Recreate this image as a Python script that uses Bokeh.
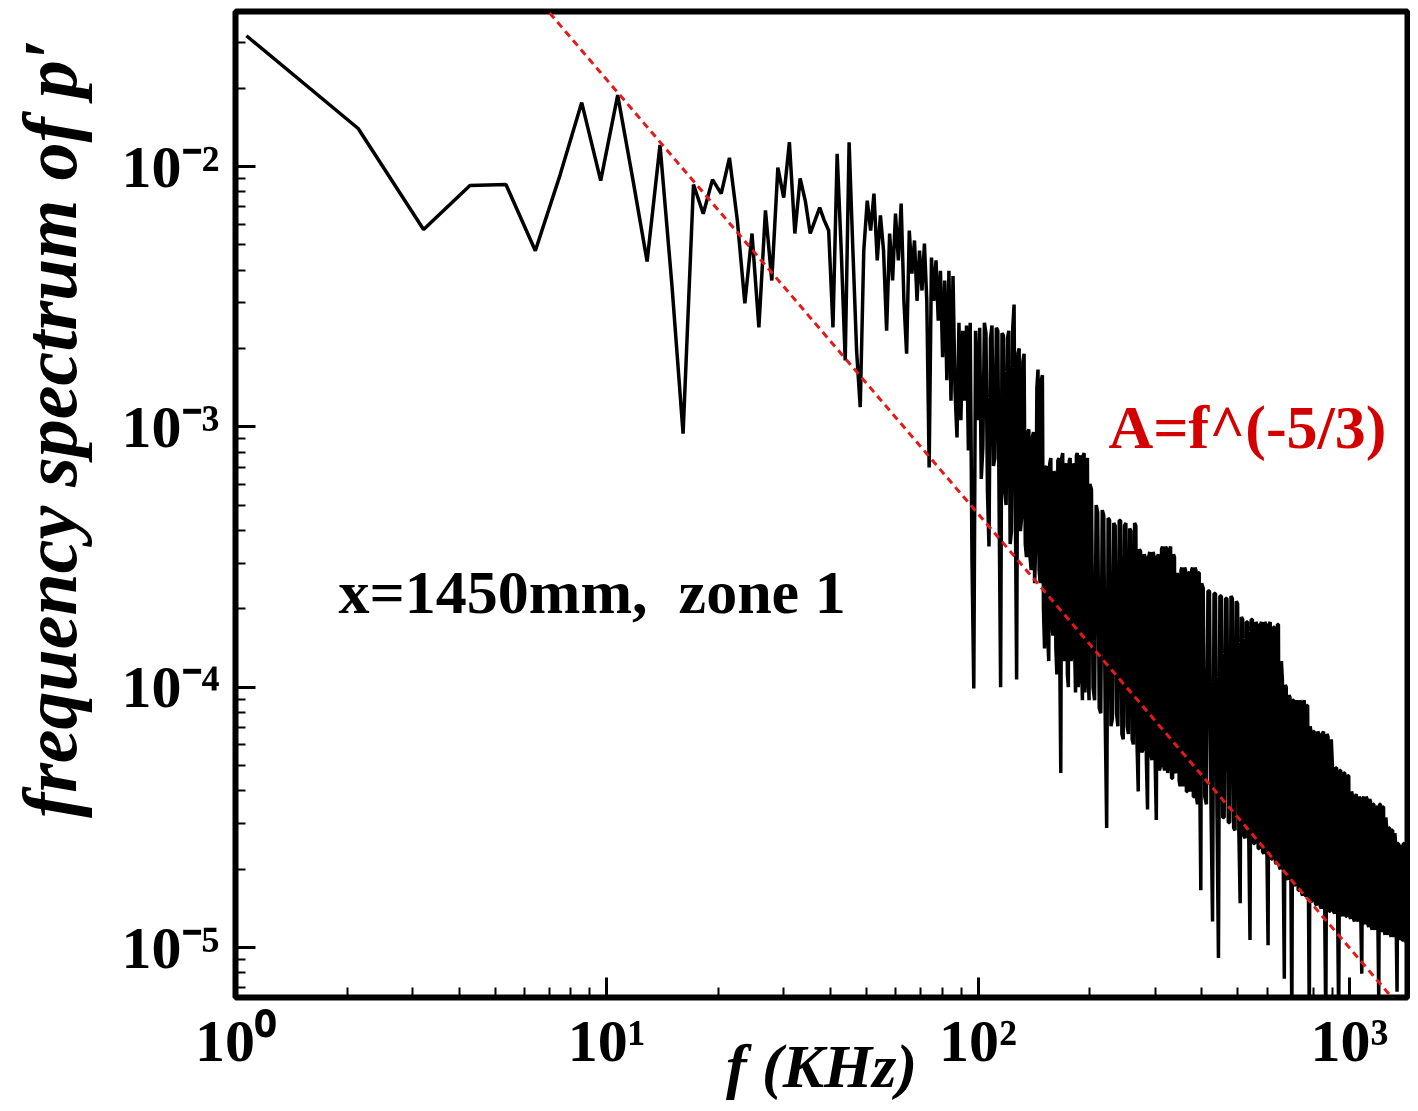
from bokeh.plotting import figure
from bokeh.models import Range1d, Label, FixedTicker
from bokeh.embed import file_html
from bokeh.resources import INLINE

# ---- data (frequency f in KHz, frequency spectrum of p') ----
low_f = [1.07, 2.14, 3.21, 4.28, 5.35, 6.42, 7.49, 8.56, 9.63, 10.7,
         11.77, 12.84, 13.91, 14.98, 16.05, 17.12, 18.19, 19.26, 20.33, 21.4,
         22.47, 23.54, 24.61, 25.68, 26.75, 27.82, 28.89, 29.96, 31.03, 32.1,
         33.17, 34.24, 35.31, 36.38, 37.45, 38.52, 39.59, 40.66, 41.73, 42.8,
         43.87, 44.94, 46.01, 47.08, 48.15, 49.22, 50.29, 51.36, 52.43, 53.5,
         54.57, 55.64, 56.71, 57.78, 58.85, 59.92, 60.99, 62.06, 63.13, 64.2,
         65.27, 66.34, 67.41, 68.48, 69.55, 70.62, 71.69, 72.76, 73.83, 74.9,
         75.97, 77.04, 78.11, 79.18, 80.25, 81.32, 82.39, 83.46, 84.53, 85.6,
         86.67, 87.74, 88.81, 89.88, 90.95, 92.02, 93.09, 94.16, 95.23, 96.3,
         97.37, 98.44, 99.51]
low_p = [0.0318, 0.0140, 5.73e-3, 8.45e-3, 8.53e-3, 4.75e-3, 9.31e-3, 1.76e-2, 8.83e-3, 1.88e-2,
         8.83e-3, 4.32e-3, 1.21e-2, 3.49e-3, 9.42e-4, 8.53e-3, 6.59e-3, 8.91e-3, 7.87e-3, 1.08e-2,
         6.21e-3, 2.98e-3, 5.53e-3, 2.41e-3, 6.78e-3, 3.65e-3, 9.91e-3, 7.60e-3, 1.24e-2, 5.53e-3,
         9.00e-3, 7.40e-3, 5.53e-3, 6.21e-3, 6.95e-3, 6.21e-3, 5.68e-3, 2.41e-3, 1.12e-2, 4.75e-3,
         1.80e-3, 1.24e-2, 4.75e-3, 1.96e-3, 1.19e-3, 4.75e-3, 7.40e-3, 5.68e-3, 7.87e-3, 4.36e-3,
         6.49e-3, 4.75e-3, 2.34e-3, 5.53e-3, 3.65e-3, 6.59e-3, 4.36e-3, 7.21e-3, 3.05e-3, 1.91e-3,
         5.68e-3, 3.88e-3, 5.20e-3, 3.05e-3, 4.75e-3, 3.34e-3, 5.06e-3, 3.05e-3, 6.98e-4, 4.47e-3,
         3.05e-3, 4.36e-3, 2.56e-3, 3.98e-3, 1.85e-3, 3.65e-3, 1.51e-3, 3.98e-3, 1.26e-3, 3.80e-3,
         1.38e-3, 9.10e-4, 2.51e-3, 1.06e-3, 2.34e-3, 1.26e-3, 2.45e-3, 8.11e-4, 2.51e-3, 3.06e-4,
         9.89e-5, 2.34e-3, 1.06e-3]

band1_f = [101, 103, 105, 107, 109, 111, 113, 115, 117, 119,
           121, 123, 125, 127, 129, 131, 133, 135, 137, 139,
           141, 143, 145, 147, 149, 151, 153, 155, 157, 159,
           161, 163, 165, 167, 169, 171, 173, 175, 177, 179,
           181, 183, 185, 187, 189, 191, 193, 195, 197, 199]
band1_p = [2.40e-3, 8.32e-4, 2.29e-3, 3.47e-4, 2.45e-3, 7.59e-4, 2.34e-3, 1.00e-4, 2.24e-3, 5.01e-4,
           2.34e-3, 3.98e-4, 2.95e-3, 1.07e-4, 2.00e-3, 4.47e-4, 1.91e-3, 3.16e-4, 9.77e-4, 2.82e-4,
           9.55e-4, 3.55e-4, 1.66e-3, 2.51e-4, 1.58e-3, 1.41e-4, 7.08e-4, 1.26e-4, 7.59e-4, 1.58e-4,
           6.61e-4, 1.12e-4, 7.59e-4, 4.68e-5, 7.94e-4, 1.26e-4, 7.24e-4, 1.00e-4, 7.59e-4, 1.41e-4,
           6.92e-4, 9.55e-5, 7.94e-4, 1.12e-4, 7.76e-4, 8.91e-5, 7.94e-4, 1.26e-4, 7.59e-4, 8.91e-5]
band1b_f = [102, 104, 106, 108, 110, 112, 114, 116, 118, 120,
            122, 124, 126, 128, 130, 132, 134, 136, 138, 140,
            142, 144, 146, 148, 150, 152, 154, 156, 158, 160,
            162, 164, 166, 168, 170, 172, 174, 176, 178, 180,
            182, 184, 186, 188, 190, 192, 194, 196, 198, 200]
band1b_p = [6.31e-4, 2.51e-3, 5.62e-4, 2.19e-3, 7.08e-4, 2.40e-3, 4.47e-4, 2.29e-3, 5.62e-4, 2.19e-3,
            3.55e-4, 2.40e-3, 5.01e-4, 1.91e-3, 3.98e-4, 1.78e-3, 3.55e-4, 9.55e-4, 3.16e-4, 9.12e-4,
            2.51e-4, 1.41e-3, 2.82e-4, 1.51e-3, 2.00e-4, 6.92e-4, 1.58e-4, 7.24e-4, 1.78e-4, 6.76e-4,
            1.41e-4, 7.41e-4, 1.26e-4, 7.59e-4, 1.58e-4, 7.08e-4, 1.12e-4, 7.41e-4, 1.26e-4, 7.24e-4,
            1.41e-4, 7.76e-4, 1.00e-4, 7.59e-4, 1.20e-4, 7.76e-4, 9.55e-5, 7.41e-4, 1.12e-4, 6.03e-4]

band2_f = [202, 206, 210, 214, 218, 222, 226, 230, 234, 238,
           242, 246, 250, 254, 258, 262, 266, 270, 274, 278,
           282, 286, 290, 294, 298, 302, 306, 310, 314, 318,
           322, 326, 330, 334, 338, 342, 346, 350, 354, 358,
           362, 366, 370, 374, 378, 382, 386, 390, 394, 398]
band2_p = [5.75e-4, 8.91e-5, 4.68e-4, 7.94e-5, 4.57e-4, 2.88e-5, 4.37e-4, 7.59e-5, 4.17e-4, 7.08e-5,
           4.37e-4, 6.31e-5, 4.27e-4, 6.61e-5, 3.98e-4, 6.03e-5, 4.17e-4, 3.98e-5, 3.31e-4, 5.75e-5,
           3.16e-4, 3.39e-5, 3.31e-4, 5.25e-5, 3.16e-4, 3.09e-5, 3.24e-4, 5.01e-5, 3.47e-4, 4.79e-5,
           3.39e-4, 5.01e-5, 3.47e-4, 4.47e-5, 3.16e-4, 4.68e-5, 2.57e-4, 4.17e-5, 2.88e-4, 4.37e-5,
           2.82e-4, 3.98e-5, 2.75e-4, 3.98e-5, 2.88e-4, 3.80e-5, 2.82e-4, 3.55e-5, 2.75e-4, 1.66e-5]
band2b_f = [204, 208, 212, 216, 220, 224, 228, 232, 236, 240,
            244, 248, 252, 256, 260, 264, 268, 272, 276, 280,
            284, 288, 292, 296, 300, 304, 308, 312, 316, 320,
            324, 328, 332, 336, 340, 344, 348, 352, 356, 360,
            364, 368, 372, 376, 380, 384, 388, 392, 396, 400]
band2b_p = [1.00e-4, 5.01e-4, 8.32e-5, 4.79e-4, 7.59e-5, 4.47e-4, 7.08e-5, 4.27e-4, 7.94e-5, 4.37e-4,
            6.61e-5, 4.17e-4, 7.08e-5, 4.07e-4, 6.31e-5, 4.27e-4, 6.03e-5, 3.39e-4, 5.62e-5, 3.24e-4,
            5.25e-5, 3.16e-4, 5.50e-5, 3.31e-4, 5.01e-5, 3.16e-4, 4.79e-5, 3.39e-4, 5.01e-5, 3.47e-4,
            4.68e-5, 3.39e-4, 4.47e-5, 3.24e-4, 4.79e-5, 2.75e-4, 4.37e-5, 2.82e-4, 4.17e-5, 2.88e-4,
            3.98e-5, 2.75e-4, 4.17e-5, 2.82e-4, 3.80e-5, 2.88e-4, 3.72e-5, 2.75e-4, 3.55e-5, 2.51e-4]

band3_f = [404, 412, 420, 428, 436, 444, 452, 460, 468, 476,
           484, 492, 500, 508, 516, 524, 532, 540, 548, 556,
           564, 572, 580, 588, 596, 604, 612, 620, 628, 636,
           644, 652, 660, 668, 676, 684, 692, 700, 708, 716,
           724, 732, 740, 748, 756, 764, 772, 780, 788, 796]
band3_p = [2.40e-4, 3.55e-5, 2.34e-4, 1.26e-5, 2.29e-4, 9.12e-6, 2.24e-4, 3.16e-5, 2.19e-4, 3.02e-5,
           2.19e-4, 2.82e-5, 2.09e-4, 1.48e-5, 1.82e-4, 2.63e-5, 1.78e-4, 1.07e-5, 1.82e-4, 2.51e-5,
           1.74e-4, 2.40e-5, 1.78e-4, 2.29e-5, 1.74e-4, 1.02e-5, 1.78e-4, 2.19e-5, 1.70e-4, 2.09e-5,
           1.74e-4, 2.00e-5, 1.07e-4, 7.59e-6, 1.00e-4, 1.82e-5, 9.12e-5, 5.01e-6, 8.91e-5, 1.74e-5,
           8.91e-5, 1.66e-5, 8.71e-5, 1.58e-5, 8.91e-5, 1.58e-5, 8.51e-5, 5.01e-6, 6.76e-5, 1.51e-5]
band3b_f = [408, 416, 424, 432, 440, 448, 456, 464, 472, 480,
            488, 496, 504, 512, 520, 528, 536, 544, 552, 560,
            568, 576, 584, 592, 600, 608, 616, 624, 632, 640,
            648, 656, 664, 672, 680, 688, 696, 704, 712, 720,
            728, 736, 744, 752, 760, 768, 776, 784, 792, 800]
band3b_p = [3.80e-5, 2.34e-4, 3.47e-5, 2.29e-4, 3.31e-5, 2.24e-4, 3.16e-5, 2.19e-4, 3.02e-5, 2.24e-4,
            2.88e-5, 2.14e-4, 2.75e-5, 1.86e-4, 2.69e-5, 1.78e-4, 2.57e-5, 1.82e-4, 2.51e-5, 1.78e-4,
            2.40e-5, 1.74e-4, 2.34e-5, 1.78e-4, 2.24e-5, 1.74e-4, 2.19e-5, 1.70e-4, 2.14e-5, 1.74e-4,
            2.04e-5, 1.26e-4, 1.91e-5, 1.02e-4, 1.86e-5, 9.33e-5, 1.78e-5, 8.91e-5, 1.74e-5, 8.71e-5,
            1.66e-5, 8.91e-5, 1.62e-5, 8.71e-5, 1.58e-5, 8.51e-5, 1.55e-5, 7.08e-5, 1.51e-5, 6.76e-5]

band4_f = [804, 816, 828, 840, 852, 864, 876, 888, 900, 912,
           924, 936, 948, 960, 972, 984, 996, 1008, 1020, 1032,
           1044, 1056, 1068, 1080, 1092, 1104, 1116, 1128, 1140, 1152,
           1164, 1176, 1188, 1200, 1212, 1224, 1236, 1248, 1260, 1272,
           1284, 1296, 1308, 1320, 1332, 1344, 1356, 1368, 1380, 1392,
           1404, 1416, 1428]
band4_p = [6.76e-5, 1.45e-5, 6.61e-5, 1.41e-5, 6.76e-5, 5.01e-6, 6.46e-5, 1.38e-5, 5.01e-5, 1.35e-5,
           4.90e-5, 5.01e-6, 4.79e-5, 1.32e-5, 4.68e-5, 1.32e-5, 4.57e-5, 1.29e-5, 3.80e-5, 1.26e-5,
           3.89e-5, 1.26e-5, 3.72e-5, 7.94e-6, 3.80e-5, 1.23e-5, 3.72e-5, 1.20e-5, 3.63e-5, 1.17e-5,
           3.55e-5, 1.17e-5, 3.47e-5, 6.31e-6, 3.55e-5, 1.15e-5, 3.47e-5, 1.12e-5, 2.88e-5, 1.12e-5,
           2.88e-5, 1.10e-5, 2.82e-5, 1.10e-5, 2.51e-5, 6.76e-6, 2.51e-5, 1.07e-5, 2.45e-5, 1.07e-5,
           2.51e-5, 1.05e-5, 2.40e-5]
band4b_f = [810, 822, 834, 846, 858, 870, 882, 894, 906, 918,
            930, 942, 954, 966, 978, 990, 1002, 1014, 1026, 1038,
            1050, 1062, 1074, 1086, 1098, 1110, 1122, 1134, 1146, 1158,
            1170, 1182, 1194, 1206, 1218, 1230, 1242, 1254, 1266, 1278,
            1290, 1302, 1314, 1326, 1338, 1350, 1362, 1374, 1386, 1398,
            1410, 1422]
band4b_p = [1.48e-5, 6.76e-5, 1.45e-5, 6.61e-5, 1.41e-5, 6.61e-5, 1.38e-5, 6.31e-5, 1.38e-5, 4.90e-5,
            1.35e-5, 4.79e-5, 1.35e-5, 4.68e-5, 1.32e-5, 4.57e-5, 1.32e-5, 3.98e-5, 1.29e-5, 3.80e-5,
            1.29e-5, 3.80e-5, 1.26e-5, 3.72e-5, 1.26e-5, 3.80e-5, 1.23e-5, 3.72e-5, 1.20e-5, 3.55e-5,
            1.20e-5, 3.47e-5, 1.17e-5, 3.55e-5, 1.17e-5, 3.47e-5, 1.15e-5, 3.16e-5, 1.15e-5, 2.88e-5,
            1.12e-5, 2.82e-5, 1.12e-5, 2.75e-5, 1.10e-5, 2.51e-5, 1.10e-5, 2.45e-5, 1.07e-5, 2.51e-5,
            1.07e-5, 2.40e-5]

# reference slope line A = f^(-5/3), end points
fit_f = [5.0, 1500.0]
fit_A = [0.0684, 5.08e-6]

x_ticks = [1, 10, 100, 1000]
x_tick_labels = ["10\u2070", "10\u00b9", "10\u00b2", "10\u00b3"]
y_ticks = [1e-5, 1e-4, 1e-3, 1e-2]
y_tick_labels = ["10\u207b\u2075", "10\u207b\u2074", "10\u207b\u00b3", "10\u207b\u00b2"]

all_f = low_f + band1_f + band1b_f + band2_f + band2b_f + band3_f + band3b_f + band4_f + band4b_f
all_p = low_p + band1_p + band1b_p + band2_p + band2b_p + band3_p + band3b_p + band4_p + band4b_p
pairs = sorted(zip(all_f, all_p))
freq = [a for a, b in pairs]
spec = [b for a, b in pairs]

SERIF = "Liberation Serif"
NB = "\u00a0"

p = figure(width=1410, height=1108, x_axis_type="log", y_axis_type="log",
           x_range=Range1d(1.0, 1434.0), y_range=Range1d(6.43e-6, 0.0394),
           output_backend="svg", toolbar_location=None,
           min_border_left=235, min_border_right=3, min_border_top=11,
           min_border_bottom=111)
p.grid.visible = False
p.outline_line_color = "black"
p.outline_line_width = 6
p.outline_line_alpha = 1.0
p.background_fill_color = "white"
p.border_fill_color = "white"

minor_x = [m * 10 ** e for e in range(0, 4) for m in range(2, 10)]
minor_y = [m * 10.0 ** e for e in range(-6, -1) for m in range(2, 10)]
p.xaxis.ticker = FixedTicker(ticks=x_ticks, minor_ticks=minor_x)
p.yaxis.ticker = FixedTicker(ticks=y_ticks, minor_ticks=minor_y)
p.xaxis.major_label_overrides = dict(zip(x_ticks, x_tick_labels))
p.yaxis.major_label_overrides = dict(zip(y_ticks, y_tick_labels))

for ax in (p.xaxis[0], p.yaxis[0]):
    ax.axis_line_color = None
    ax.major_tick_in = 20
    ax.major_tick_out = 0
    ax.minor_tick_in = 10
    ax.minor_tick_out = 0
    ax.major_tick_line_width = 3
    ax.minor_tick_line_width = 2
    ax.major_tick_line_color = "black"
    ax.minor_tick_line_color = "black"
    ax.major_label_text_font = SERIF
    ax.major_label_text_font_style = "bold"
    ax.major_label_text_font_size = "60px"
    ax.major_label_text_color = "black"
    ax.axis_label_text_font = SERIF
    ax.axis_label_text_font_style = "bold italic"
    ax.axis_label_text_color = "black"
p.yaxis.major_label_standoff = 16
p.xaxis.major_label_standoff = 10

p.yaxis.axis_label = NB * 8 + "frequency spectrum of p\u2032"
p.yaxis.axis_label_text_font_size = "76px"
p.yaxis.axis_label_text_line_height = 1.0
p.yaxis.axis_label_standoff = 27
p.xaxis.axis_label = "f (KHz)"
p.xaxis.axis_label_text_font_size = "62px"
p.xaxis.axis_label_standoff = -45

p.line(freq, spec, line_color="black", line_width=3.5)
p.line(fit_f, fit_A, line_color="#e31a1a", line_width=3, line_dash="7 5")

p.add_layout(Label(x=1.894, y=2.33e-4, text="x=1450mm," + NB + " zone 1", text_align="left",
                   text_baseline="alphabetic", text_font=SERIF,
                   text_font_style="bold", text_font_size="62px",
                   text_color="black"))
p.add_layout(Label(x=224.5, y=1.0e-3, text="A=f^(-5/3)", text_align="left",
                   text_baseline="alphabetic", text_font=SERIF,
                   text_font_style="bold", text_font_size="62px",
                   text_color="#d40000"))

open("out.html", "w").write(file_html(p, INLINE))
